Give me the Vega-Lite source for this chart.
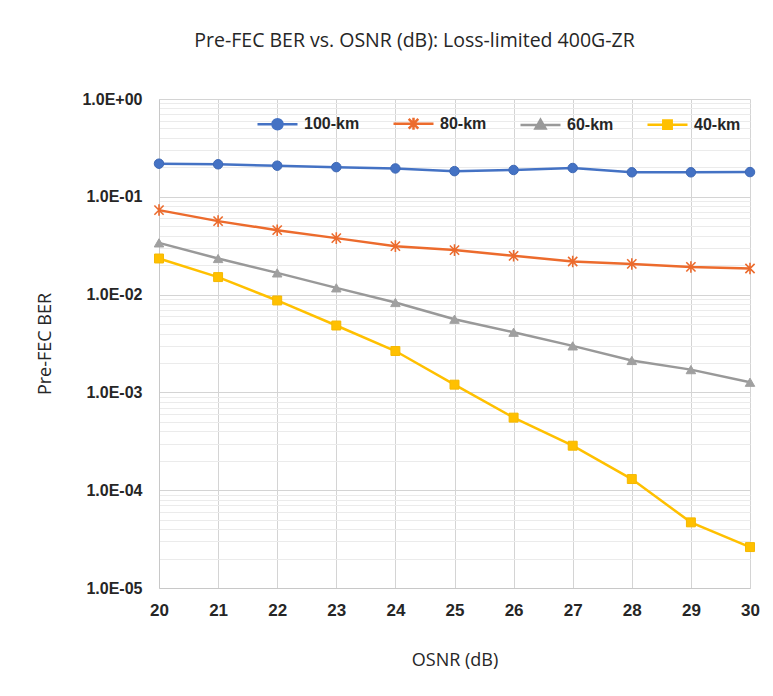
{
  "$schema": "https://vega.github.io/schema/vega-lite/v6.json",
  "width": 591,
  "height": 489,
  "autosize": {"type": "none"},
  "padding": {"left": 159, "top": 99, "right": 23, "bottom": 108},
  "background": "#ffffff",
  "title": {
    "text": "Pre-FEC BER vs. OSNR (dB): Loss-limited 400G-ZR",
    "font": "Open Sans",
    "fontSize": 19.5,
    "fontWeight": "normal",
    "color": "#262626",
    "anchor": "middle",
    "frame": "group",
    "dx": -40,
    "offset": 40
  },
  "config": {
    "view": {"stroke": null},
    "axis": {
      "labelFont": "Liberation Sans",
      "labelFontWeight": "bold",
      "labelColor": "#262626",
      "titleFont": "Open Sans",
      "titleFontWeight": "normal",
      "titleColor": "#262626"
    }
  },
  "data": {
    "values": [
      {"osnr": 20, "series": "100-km", "ber": 0.218},
      {"osnr": 21, "series": "100-km", "ber": 0.215},
      {"osnr": 22, "series": "100-km", "ber": 0.208},
      {"osnr": 23, "series": "100-km", "ber": 0.201},
      {"osnr": 24, "series": "100-km", "ber": 0.195},
      {"osnr": 25, "series": "100-km", "ber": 0.183},
      {"osnr": 26, "series": "100-km", "ber": 0.188},
      {"osnr": 27, "series": "100-km", "ber": 0.197},
      {"osnr": 28, "series": "100-km", "ber": 0.178},
      {"osnr": 29, "series": "100-km", "ber": 0.178},
      {"osnr": 30, "series": "100-km", "ber": 0.179},
      {"osnr": 20, "series": "80-km", "ber": 0.0731},
      {"osnr": 21, "series": "80-km", "ber": 0.0564},
      {"osnr": 22, "series": "80-km", "ber": 0.0456},
      {"osnr": 23, "series": "80-km", "ber": 0.0378},
      {"osnr": 24, "series": "80-km", "ber": 0.0313},
      {"osnr": 25, "series": "80-km", "ber": 0.0285},
      {"osnr": 26, "series": "80-km", "ber": 0.0249},
      {"osnr": 27, "series": "80-km", "ber": 0.0218},
      {"osnr": 28, "series": "80-km", "ber": 0.0206},
      {"osnr": 29, "series": "80-km", "ber": 0.0192},
      {"osnr": 30, "series": "80-km", "ber": 0.0185},
      {"osnr": 20, "series": "60-km", "ber": 0.0338},
      {"osnr": 21, "series": "60-km", "ber": 0.0234},
      {"osnr": 22, "series": "60-km", "ber": 0.01667},
      {"osnr": 23, "series": "60-km", "ber": 0.01172},
      {"osnr": 24, "series": "60-km", "ber": 0.0083},
      {"osnr": 25, "series": "60-km", "ber": 0.0056},
      {"osnr": 26, "series": "60-km", "ber": 0.00412},
      {"osnr": 27, "series": "60-km", "ber": 0.00299},
      {"osnr": 28, "series": "60-km", "ber": 0.00212},
      {"osnr": 29, "series": "60-km", "ber": 0.00171},
      {"osnr": 30, "series": "60-km", "ber": 0.00127},
      {"osnr": 20, "series": "40-km", "ber": 0.0234},
      {"osnr": 21, "series": "40-km", "ber": 0.0151},
      {"osnr": 22, "series": "40-km", "ber": 0.00871},
      {"osnr": 23, "series": "40-km", "ber": 0.00483},
      {"osnr": 24, "series": "40-km", "ber": 0.00265},
      {"osnr": 25, "series": "40-km", "ber": 0.0012},
      {"osnr": 26, "series": "40-km", "ber": 0.000552},
      {"osnr": 27, "series": "40-km", "ber": 0.000285},
      {"osnr": 28, "series": "40-km", "ber": 0.00013},
      {"osnr": 29, "series": "40-km", "ber": 0.0000469},
      {"osnr": 30, "series": "40-km", "ber": 0.0000262}
    ]
  },
  "resolve": {"axis": {"y": "independent"}},
  "layer": [
    {
      "mark": {"type": "line", "strokeWidth": 2.5, "clip": false},
      "encoding": {
        "x": {
          "field": "osnr",
          "type": "quantitative",
          "scale": {"domain": [20, 30], "nice": false, "zero": false},
          "axis": {
            "values": [20, 21, 22, 23, 24, 25, 26, 27, 28, 29, 30],
            "format": "d",
            "labelFlush": false,
            "title": "OSNR (dB)",
            "titleFontSize": 18,
            "titlePadding": 33,
            "labelFontSize": 17,
            "labelPadding": 14,
            "ticks": false,
            "domain": true,
            "domainColor": "#c8c8c8",
            "domainWidth": 1,
            "grid": true,
            "gridColor": "#d4d4d4",
            "gridWidth": 1
          }
        },
        "y": {
          "field": "ber",
          "type": "quantitative",
          "scale": {"type": "log", "domain": [0.00001, 1], "nice": false},
          "axis": {
            "orient": "left",
            "values": [0.00001, 0.0001, 0.001, 0.01, 0.1, 1],
            "labelExpr": "'1.0E' + (datum.value >= 0.999 ? '+00' : '-0' + format(-log(datum.value) / LN10, '.0f'))",
            "title": "Pre-FEC BER",
            "titleFontSize": 18,
            "titlePadding": 27,
            "labelFontSize": 16,
            "labelPadding": 17,
            "ticks": false,
            "domain": true,
            "domainColor": "#c8c8c8",
            "grid": true,
            "gridColor": "#d4d4d4",
            "gridWidth": 1
          }
        },
        "color": {
          "field": "series",
          "type": "nominal",
          "scale": {
            "domain": ["100-km", "80-km", "60-km", "40-km"],
            "range": ["#4472C4", "#EC6B2D", "#999999", "#FFC000"]
          },
          "legend": {
            "orient": "none",
            "legendX": 97,
            "legendY": 3,
            "direction": "horizontal",
            "title": null,
            "padding": 0,
            "symbolSize": 1600,
            "symbolStrokeWidth": 2.5,
            "labelFont": "Liberation Sans",
            "labelFontWeight": "bold",
            "labelFontSize": 16,
            "labelColor": "#262626",
            "labelOffset": 5,
            "columnPadding": 28,
            "encode": {
              "symbols": {
                "update": {
                  "shape": {"signal": "datum.value === '100-km' ? 'M-1,0H1M-0.25,0A0.25,0.25 0 1,1 0.25,0A0.25,0.25 0 1,1 -0.25,0Z' : datum.value === '80-km' ? 'M-1,0H1M-0.24,-0.24L0.24,0.24M-0.24,0.24L0.24,-0.24M0,-0.3V0.3' : datum.value === '60-km' ? 'M-1,0H1M0,-0.26L0.25,0.18L-0.25,0.18Z' : 'M-1,0H1M-0.21,-0.21H0.21V0.21H-0.21Z'"},
                  "fill": {"scale": "color", "field": "value"},
                  "stroke": {"scale": "color", "field": "value"},
                  "strokeWidth": {"value": 2.5},
                  "opacity": {"value": 1}
                }
              }
            }
          }
        }
      }
    },
    {
      "transform": [{"filter": {"field": "series", "equal": "100-km"}}],
      "mark": {"type": "point", "shape": "circle", "filled": true, "opacity": 1, "size": 90, "fill": "#4472C4", "stroke": "#3F69B5", "strokeWidth": 1, "clip": false},
      "encoding": {
        "x": {"field": "osnr", "type": "quantitative"},
        "y": {
          "field": "ber",
          "type": "quantitative",
          "axis": {
            "orient": "right",
            "values": [0.00002, 0.00003, 0.00004, 0.00005, 0.00006, 0.00007, 0.00008, 0.00009,
                       0.0002, 0.0003, 0.0004, 0.0005, 0.0006, 0.0007, 0.0008, 0.0009,
                       0.002, 0.003, 0.004, 0.005, 0.006, 0.007, 0.008, 0.009,
                       0.02, 0.03, 0.04, 0.05, 0.06, 0.07, 0.08, 0.09,
                       0.2, 0.3, 0.4, 0.5, 0.6, 0.7, 0.8, 0.9],
            "labels": false,
            "ticks": false,
            "domain": false,
            "title": null,
            "grid": true,
            "gridColor": "#ebebeb",
            "gridWidth": 1
          }
        }
      }
    },
    {
      "transform": [{"filter": {"field": "series", "equal": "80-km"}}],
      "mark": {"type": "point", "shape": "M-1,-1L1,1M-1,1L1,-1M0,-1.25V1.25", "filled": false, "opacity": 1, "size": 85, "stroke": "#EC6B2D", "strokeWidth": 1.6, "clip": false},
      "encoding": {
        "x": {"field": "osnr", "type": "quantitative"},
        "y": {"field": "ber", "type": "quantitative", "axis": null}
      }
    },
    {
      "transform": [{"filter": {"field": "series", "equal": "60-km"}}],
      "mark": {"type": "point", "shape": "triangle-up", "filled": true, "opacity": 1, "size": 90, "fill": "#A0A0A0", "stroke": "#A0A0A0", "strokeWidth": 1, "clip": false},
      "encoding": {
        "x": {"field": "osnr", "type": "quantitative"},
        "y": {"field": "ber", "type": "quantitative", "axis": null}
      }
    },
    {
      "transform": [{"filter": {"field": "series", "equal": "40-km"}}],
      "mark": {"type": "point", "shape": "square", "filled": true, "opacity": 1, "size": 80, "fill": "#FFC000", "stroke": "#F5B800", "strokeWidth": 1, "clip": false},
      "encoding": {
        "x": {"field": "osnr", "type": "quantitative"},
        "y": {"field": "ber", "type": "quantitative", "axis": null}
      }
    }
  ]
}
